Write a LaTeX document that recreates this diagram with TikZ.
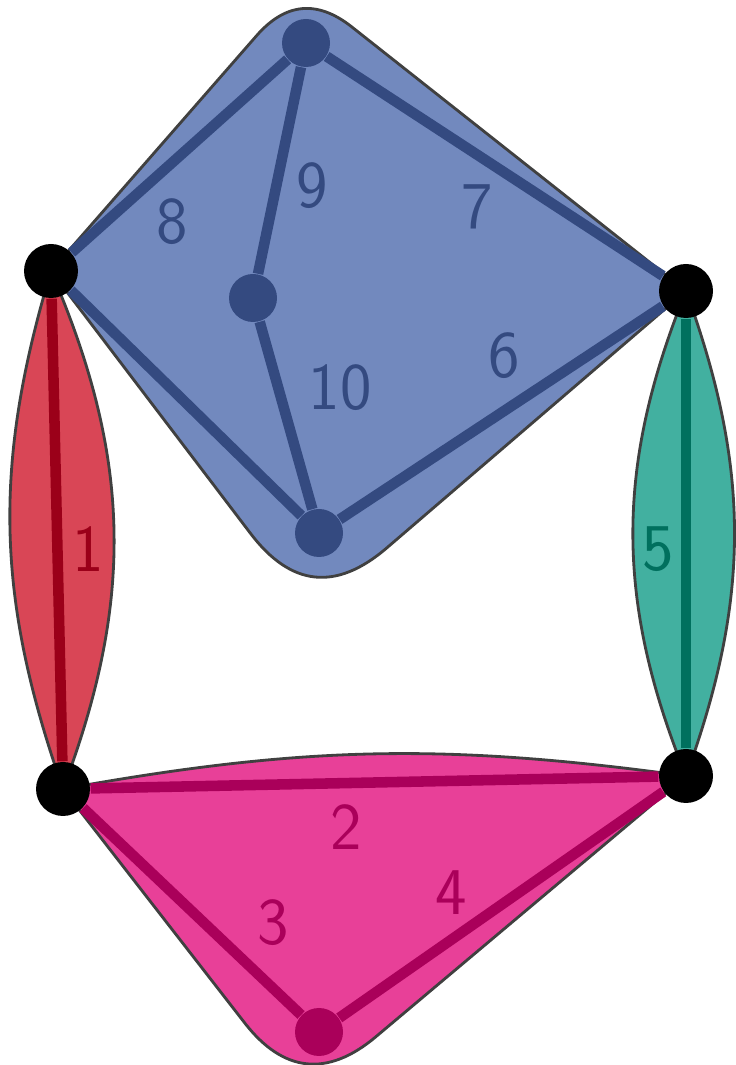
\documentclass[tikz,border=0pt]{standalone}
\usepackage{xcolor}
\usepackage{tikz}
\usetikzlibrary{calc}

\definecolor{bluefill}{HTML}{7289BE}
\definecolor{bluedark}{HTML}{344A80}
\definecolor{redfill}{HTML}{D94656}
\definecolor{reddark}{HTML}{9B0019}
\definecolor{tealfill}{HTML}{42B0A0}
\definecolor{tealdark}{HTML}{00705E}
\definecolor{pinkfill}{HTML}{E84098}
\definecolor{pinkdark}{HTML}{AA005A}
\definecolor{hullgray}{HTML}{404040}

\pgfdeclarelayer{background}
\pgfsetlayers{background,main}

\begin{document}
\begin{tikzpicture}[
  vtx/.style={circle, fill=black, inner sep=0pt, minimum size=5.4mm},
  dot/.style={circle, inner sep=0pt, minimum size=4.8mm},
  hull/.style={draw=hullgray, line width=0.8pt, line join=round},
  hedge/.style={line width=3pt},
  lbl/.style={inner sep=0pt, font=\fontsize{19}{22}\selectfont\sffamily}
]
  \useasboundingbox (0,0) rectangle (7.35,10.65);

  % vertices
  \node[vtx] (nw) at (0.51,7.94) {};
  \node[vtx] (ne) at (6.86,7.74) {};
  \node[vtx] (sw) at (0.63,2.76) {};
  \node[vtx] (se) at (6.86,2.89) {};
  \node[dot, fill=bluedark] (top) at (3.06,10.22) {};
  \node[dot, fill=bluedark] (mid) at (2.53,7.67) {};
  \node[dot, fill=bluedark] (bot) at (3.19,5.32) {};
  \node[dot, fill=pinkdark] (low) at (3.19,0.33) {};

  % corners of the hulls
  \coordinate (tc) at (3.00,10.79);
  \coordinate (bc) at (3.11,4.52);
  \coordinate (pc) at (3.03,-0.33);

  \begin{pgfonlayer}{background}
    \draw[hull, fill=bluefill] (nw.center) -- ($(tc)!0.66cm!(nw)$)
      .. controls ($(tc)!0.22cm!(nw)$) and ($(tc)!0.22cm!(ne)$) .. ($(tc)!0.66cm!(ne)$)
      -- (ne.center) -- ($(bc)!1.0cm!(ne)$)
      .. controls ($(bc)!0.33cm!(ne)$) and ($(bc)!0.33cm!(nw)$) .. ($(bc)!1.0cm!(nw)$)
      -- cycle;
    \draw[hull, fill=redfill] (nw.center) to[bend right=18] (sw.center)
      to[bend right=22] (nw.center) -- cycle;
    \draw[hull, fill=tealfill] (ne.center) to[bend right=22] (se.center)
      to[bend right=20] (ne.center) -- cycle;
    \draw[hull, fill=pinkfill] (sw.center) to[bend left=9] (se.center)
      -- ($(pc)!0.95cm!(se)$)
      .. controls ($(pc)!0.32cm!(se)$) and ($(pc)!0.32cm!(sw)$) .. ($(pc)!0.95cm!(sw)$)
      -- cycle;
  \end{pgfonlayer}

  % edges
  \draw[hedge, reddark] (nw) -- (sw);
  \draw[hedge, tealdark] (ne) -- (se);
  \draw[hedge, pinkdark] (sw) -- (se);
  \draw[hedge, pinkdark] (sw) -- (low);
  \draw[hedge, pinkdark] (low) -- (se);
  \draw[hedge, bluedark] (nw) -- (top);
  \draw[hedge, bluedark] (top) -- (ne);
  \draw[hedge, bluedark] (top) -- (mid);
  \draw[hedge, bluedark] (mid) -- (bot);
  \draw[hedge, bluedark] (nw) -- (bot);
  \draw[hedge, bluedark] (bot) -- (ne);

  % labels
  \node[lbl, text=reddark] (l1) at (0.88,5.16) {1};
  \node[lbl, text=pinkdark] (l2) at (3.46,2.38) {2};
  \node[lbl, text=pinkdark] (l3) at (2.73,1.42) {3};
  \node[lbl, text=pinkdark] (l4) at (4.51,1.72) {4};
  \node[lbl, text=tealdark] (l5) at (6.58,5.16) {5};
  \node[lbl, text=bluedark] (l6) at (5.04,7.09) {6};
  \node[lbl, text=bluedark] (l7) at (4.77,8.58) {7};
  \node[lbl, text=bluedark] (l8) at (1.72,8.43) {8};
  \node[lbl, text=bluedark] (l9) at (3.12,8.79) {9};
  \node[lbl, text=bluedark] (l10) at (3.40,6.77) {10};
\end{tikzpicture}
\end{document}
